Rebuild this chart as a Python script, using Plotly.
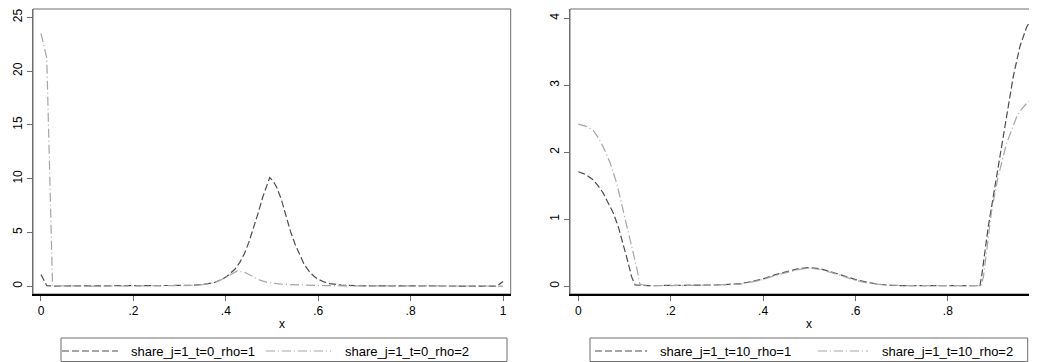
import plotly.graph_objects as go

# ---------------- data ----------------
# Left panel: t = 0
x_t0_rho1 = [0, 0.0125, 0.025, 0.05, 0.1, 0.15, 0.2, 0.25, 0.3, 0.325, 0.35, 0.375, 0.39, 0.4,
             0.41, 0.42, 0.43, 0.44, 0.45, 0.46, 0.47, 0.48, 0.4875, 0.495, 0.5025, 0.51, 0.52,
             0.53, 0.54, 0.55, 0.56, 0.57, 0.58, 0.59, 0.6, 0.6125, 0.625, 0.65, 0.7, 0.75, 0.8,
             0.9, 0.95, 0.9875, 1.0]
y_t0_rho1 = [1.1, 0.05, 0.02, 0.02, 0.02, 0.02, 0.02, 0.03, 0.05, 0.08, 0.15, 0.35, 0.6, 0.85,
             1.2, 1.6, 2.2, 3.0, 4.1, 5.4, 6.8, 8.3, 9.3, 10.1, 9.8, 9.2, 8.1,
             6.6, 5.1, 3.9, 2.9, 2.0, 1.4, 0.95, 0.65, 0.4, 0.25, 0.1, 0.04, 0.02, 0.02,
             0.02, 0.02, 0.02, 0.45]

x_t0_rho2 = [0, 0.0125, 0.025, 0.05, 0.1, 0.15, 0.2, 0.25, 0.3, 0.325, 0.35, 0.375, 0.39, 0.4,
             0.41, 0.425, 0.44, 0.45, 0.46, 0.475, 0.49, 0.5, 0.525, 0.55, 0.6, 0.65, 0.7, 0.8,
             0.9, 1.0]
y_t0_rho2 = [23.5, 21.2, 0.05, 0.02, 0.02, 0.02, 0.02, 0.03, 0.04, 0.07, 0.15, 0.35, 0.6, 0.85,
             1.1, 1.42, 1.3, 1.1, 0.85, 0.55, 0.35, 0.28, 0.18, 0.12, 0.07, 0.04, 0.03, 0.02,
             0.02, 0.02]

# Right panel: t = 10
x_t10_rho1 = [0, 0.016, 0.032, 0.043, 0.054, 0.065, 0.076, 0.087, 0.097, 0.106, 0.1155, 0.123,
              0.15, 0.2, 0.25, 0.3, 0.325, 0.35, 0.375, 0.4, 0.425, 0.45, 0.475, 0.5, 0.525,
              0.55, 0.575, 0.6, 0.625, 0.65, 0.675, 0.7, 0.8, 0.8695, 0.873, 0.8875, 0.9056,
              0.9236, 0.9416, 0.956, 0.9706, 0.98, 0.9886]
y_t10_rho1 = [1.71, 1.67, 1.59, 1.50, 1.39, 1.25, 1.09, 0.88, 0.64, 0.40, 0.14, 0.02,
              0.01, 0.01, 0.01, 0.02, 0.03, 0.04, 0.07, 0.11, 0.17, 0.22, 0.26, 0.28, 0.26,
              0.21, 0.15, 0.10, 0.06, 0.03, 0.015, 0.01, 0.01, 0.01, 0.14, 0.89, 1.64,
              2.38, 3.13, 3.58, 3.87, 3.97, 4.02]

x_t10_rho2 = [0, 0.016, 0.032, 0.043, 0.054, 0.069, 0.083, 0.097, 0.112, 0.126, 0.1335,
              0.15, 0.2, 0.25, 0.3, 0.35, 0.375, 0.4, 0.425, 0.45, 0.475, 0.5, 0.525, 0.55,
              0.575, 0.6, 0.625, 0.65, 0.7, 0.8, 0.872, 0.877, 0.895, 0.909, 0.927, 0.949,
              0.96, 0.9706, 0.9886]
y_t10_rho2 = [2.42, 2.39, 2.33, 2.22, 2.08, 1.84, 1.54, 1.14, 0.69, 0.29, 0.03,
              0.01, 0.01, 0.01, 0.02, 0.03, 0.06, 0.10, 0.16, 0.21, 0.25, 0.27, 0.25, 0.20,
              0.14, 0.09, 0.05, 0.03, 0.01, 0.01, 0.01, 0.14, 1.14, 1.64, 2.13, 2.53,
              2.65, 2.73, 2.83]

names_t0 = ["share_j=1_t=0_rho=1", "share_j=1_t=0_rho=2"]
names_t10 = ["share_j=1_t=10_rho=1", "share_j=1_t=10_rho=2"]

x_tickvals = [0, 0.2, 0.4, 0.6, 0.8, 1]
x_ticktext = ["0", ".2", ".4", ".6", ".8", "1"]
y_ticks_left = [0, 5, 10, 15, 20, 25]
y_ticks_right = [0, 1, 2, 3, 4]

# ---------------- styling ----------------
# The page body keeps the browser's default 8px margin, so the figure is sized to
# fill the rest of the 1037x362 window and positions are given in window pixels.
WIN_W, WIN_H = 1037, 362
OFF = 8
W, H = WIN_W - OFF, WIN_H - OFF
DARK = "#4d4d4d"
LIGHT = "#a6a6a6"
AXG = "#6e6e6e"
FONT = "Liberation Sans, Arial, sans-serif"
dash1 = "7px,3px"
dash2 = "9px,3px,1px,3px"

def px_x(p):
    return (p - OFF) / W

def px_y(p):
    return 1 - (p - OFF) / H

fig = go.Figure()

series = [
    (x_t0_rho1, y_t0_rho1, names_t0[0], DARK, dash1, "x", "y"),
    (x_t0_rho2, y_t0_rho2, names_t0[1], LIGHT, dash2, "x", "y"),
    (x_t10_rho1, y_t10_rho1, names_t10[0], DARK, dash1, "x2", "y2"),
    (x_t10_rho2, y_t10_rho2, names_t10[1], LIGHT, dash2, "x2", "y2"),
]
for xs, ys, nm, col, dsh, xa, ya in series:
    fig.add_trace(go.Scatter(x=xs, y=ys, mode="lines", name=nm,
                             line=dict(color=col, width=1.2, dash=dsh),
                             xaxis=xa, yaxis=ya, showlegend=False))

ydom = [px_y(294), px_y(9)]

common_x = dict(tickvals=x_tickvals, ticktext=x_ticktext, ticks="outside", ticklen=5,
                tickcolor=AXG, tickwidth=1, showline=True, linecolor="black", linewidth=1.5,
                showgrid=False, zeroline=False, automargin=False,
                tickfont=dict(size=12, color="black", family=FONT), fixedrange=True)
common_y = dict(ticks="outside", ticklen=5, tickcolor=AXG, tickwidth=1, tickangle=-90,
                showline=True, linecolor=AXG, linewidth=1, showgrid=False, zeroline=False,
                automargin=False,
                tickfont=dict(size=12, color="black", family=FONT), fixedrange=True)

fig.update_layout(
    width=W, height=H,
    margin=dict(l=0, r=0, t=0, b=0, autoexpand=False),
    paper_bgcolor="white", plot_bgcolor="white",
    font=dict(family=FONT, size=12, color="black"),
    showlegend=False,
    xaxis=dict(domain=[px_x(33), px_x(510.7)], anchor="y", range=[-0.0173, 1.0166], **common_x),
    yaxis=dict(domain=ydom, anchor="x", range=[-0.72, 25.77], tickvals=y_ticks_left, **common_y),
    xaxis2=dict(domain=[px_x(570), 1.0], anchor="y2", range=[-0.018, 0.993], **common_x),
    yaxis2=dict(domain=ydom, anchor="x2", range=[-0.115, 4.139], tickvals=y_ticks_right, **common_y),
)

# plot-region frames (gray box), drawn below data
for xr, yr in (("x domain", "y domain"), ("x2 domain", "y2 domain")):
    fig.add_shape(type="rect", xref=xr, yref=yr, x0=0, x1=1, y0=0, y1=1,
                  line=dict(color=AXG, width=1), layer="below")

# legend boxes with keys and labels
LEG_Y = 351
legend_specs = [
    (61, 507, [(62, 118, 129, names_t0[0], DARK, dash1),
               (266, 331, 343, names_t0[1], LIGHT, dash2)]),
    (590, 1027.7, [(595, 647, 658, names_t10[0], DARK, dash1),
                   (818, 868, 880, names_t10[1], LIGHT, dash2)]),
]
for bx0, bx1, items in legend_specs:
    fig.add_shape(type="rect", xref="paper", yref="paper", x0=px_x(bx0), x1=px_x(bx1),
                  y0=px_y(361.5), y1=px_y(338), line=dict(color=AXG, width=1),
                  fillcolor="rgba(0,0,0,0)", layer="below")
    for sx0, sx1, tx, nm, col, dsh in items:
        fig.add_shape(type="line", xref="paper", yref="paper", x0=px_x(sx0), x1=px_x(sx1),
                      y0=px_y(LEG_Y), y1=px_y(LEG_Y), line=dict(color=col, width=1.2, dash=dsh))
        fig.add_annotation(text=nm, xref="paper", yref="paper", x=px_x(tx), y=px_y(LEG_Y),
                           xanchor="left", yanchor="middle", showarrow=False,
                           font=dict(size=13, family=FONT, color="black"))

# axis titles
for xc in (282, 809):
    fig.add_annotation(text="x", xref="paper", yref="paper", x=px_x(xc), y=px_y(324),
                       xanchor="center", yanchor="middle", showarrow=False,
                       font=dict(size=12, family=FONT, color="black"))

fig.write_html("out.html")
